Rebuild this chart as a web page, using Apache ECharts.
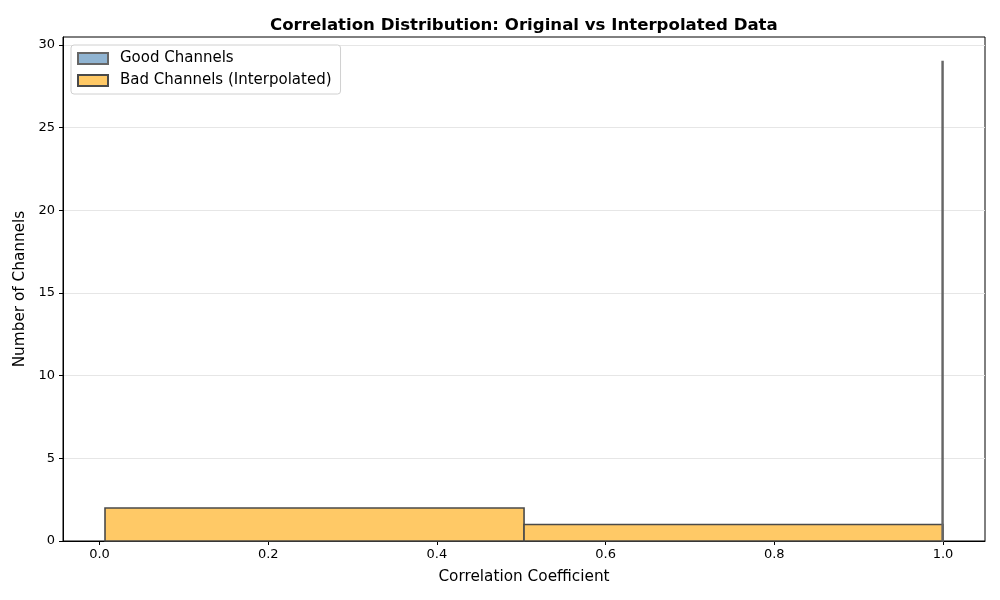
<!DOCTYPE html>
<html><head><meta charset="utf-8">
<script src="https://cdn.jsdelivr.net/npm/echarts@6/dist/echarts.min.js"></script>
<style>html,body{margin:0;padding:0;background:#fff}#c{width:1000px;height:600px}</style>
</head><body><div id="c"></div>
<script>
// Histogram bins: [left edge, right edge, count]
const goodBinLeft = [0.9990];
const goodBinRight = [1.0000];
const goodCounts = [29];
const badBinLeft = [0.0065, 0.5033];
const badBinRight = [0.5033, 1.0000];
const badCounts = [2, 1];
const xTicks = [0, 0.2, 0.4, 0.6, 0.8, 1.0];
const yTicks = [0, 5, 10, 15, 20, 25, 30];

const goodData = goodCounts.map((c, i) => [goodBinLeft[i], goodBinRight[i], c]);
const badData = badCounts.map((c, i) => [badBinLeft[i], badBinRight[i], c]);

function renderBar(params, api) {
  const p0 = api.coord([api.value(0), 0]);
  const p1 = api.coord([api.value(1), api.value(2)]);
  return {
    type: 'rect',
    shape: { x: p0[0], y: p1[1], width: p1[0] - p0[0], height: p0[1] - p1[1] },
    style: api.style()
  };
}

const font = 'DejaVu Sans';
const chart = echarts.init(document.getElementById('c'), null, { renderer: 'canvas' });
chart.setOption({
  animation: false,
  backgroundColor: '#fff',
  textStyle: { fontFamily: font },
  title: {
    text: 'Correlation Distribution: Original vs Interpolated Data',
    left: 265, top: 12,
    textStyle: { fontFamily: font, fontSize: 16.6, fontWeight: 'bold', color: '#000' }
  },
  legend: {
    orient: 'vertical', left: 71, top: 45,
    padding: [6, 9, 6, 6],
    backgroundColor: '#fff', borderColor: '#d0d0d0', borderWidth: 1, borderRadius: 3,
    itemWidth: 30, itemHeight: 11, itemGap: 7,
    icon: 'rect',
    textStyle: { fontFamily: font, fontSize: 15, color: '#000', padding: [0, 0, 0, 7] },
    data: ['Good Channels', 'Bad Channels (Interpolated)']
  },
  grid: {
    left: 63, right: 15, top: 37, bottom: 59,
    containLabel: false, outerBoundsMode: 'none',
    show: true, borderColor: '#000', borderWidth: 1, backgroundColor: 'transparent'
  },
  xAxis: {
    type: 'value', min: -0.0433, max: 1.0498,
    name: 'Correlation Coefficient', nameLocation: 'middle', nameGap: 29,
    nameTextStyle: { fontFamily: font, fontSize: 15.3, color: '#000' },
    axisLine: { show: true, onZero: false, lineStyle: { color: '#000', width: 1 } },
    axisTick: { show: true, customValues: xTicks, length: 4, lineStyle: { color: '#000' } },
    axisLabel: { customValues: xTicks, fontFamily: font, fontSize: 13, color: '#000', margin: 7,
      formatter: v => v.toFixed(1) },
    splitLine: { show: false }
  },
  yAxis: {
    type: 'value', min: 0, max: 30.48, interval: 5,
    name: 'Number of Channels', nameLocation: 'middle', nameGap: 34, nameRotate: 90,
    nameTextStyle: { fontFamily: font, fontSize: 15.3, color: '#000' },
    axisLine: { show: true, onZero: false, lineStyle: { color: '#000', width: 1 } },
    axisTick: { show: true, customValues: yTicks, length: 4, lineStyle: { color: '#000' } },
    axisLabel: { customValues: yTicks, fontFamily: font, fontSize: 13, color: '#000', margin: 8 },
    splitLine: { show: true, lineStyle: { color: '#e6e6e6', width: 1 } }
  },
  series: [
    {
      name: 'Good Channels', type: 'custom', renderItem: renderBar,
      encode: { x: [0, 1], y: 2 },
      itemStyle: { color: '#90b4d2', borderColor: '#666666', borderWidth: 1.6 },
      data: goodData, z: 3
    },
    {
      name: 'Bad Channels (Interpolated)', type: 'custom', renderItem: renderBar,
      encode: { x: [0, 1], y: 2 },
      itemStyle: { color: '#ffc966', borderColor: '#4a4a4a', borderWidth: 1.6 },
      data: badData, z: 2
    }
  ]
});
</script></body></html>
